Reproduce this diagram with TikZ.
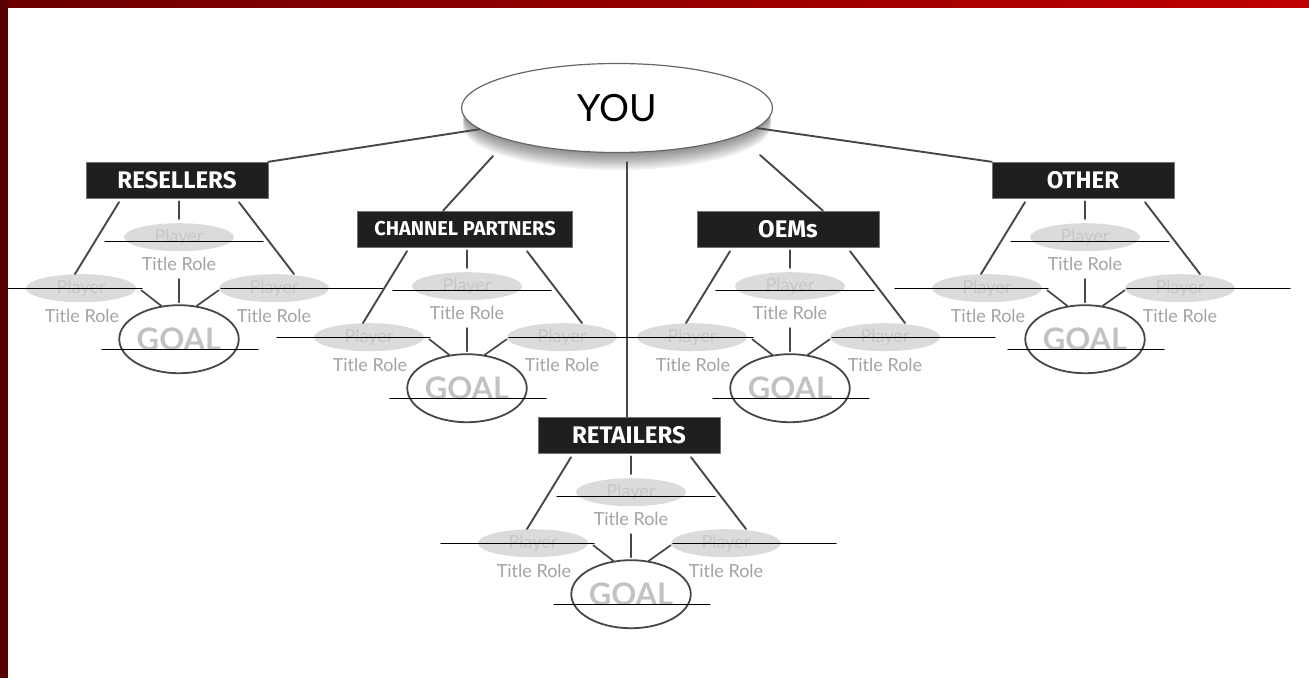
\documentclass[tikz,border=0pt]{standalone}
\usepackage{fontspec}
\setmainfont{Lato}
\newfontfamily\catfont{Fira Sans}
\usetikzlibrary{calc}
\usetikzlibrary{positioning}
\usetikzlibrary{shapes.geometric}

\tikzset{
  catbox/.style={fill=black!88, draw=black!55, text=white, inner sep=0pt,
    minimum width=182pt, minimum height=36pt,
    font=\catfont\bfseries\fontsize{24}{24}\selectfont},
  player/.style={ellipse, fill=black!14, text=black!22, inner sep=0pt,
    minimum width=110pt, minimum height=28pt, font=\fontsize{18}{18}\selectfont},
  role/.style={text=black!36, inner sep=0pt, font=\fontsize{18}{18}\selectfont},
  goal/.style={ellipse, draw=black!72, line width=1.8pt, text=black!24, inner sep=0pt,
    minimum width=105pt, minimum height=68pt, font=\bfseries\fontsize{31}{31}\selectfont},
  link/.style={draw=black!72, line width=1.9pt},
  tick/.style={draw=black!72, line width=1.7pt},
  blank/.style={draw=black, line width=1.3pt},
}

\begin{document}
\begin{tikzpicture}[x=1pt, y=-1pt, line cap=round, line join=round]
  \useasboundingbox (0,0) rectangle (1309,678);
  %--- YOU
    \foreach \i in {2,4,...,20}
      \fill[black, opacity=0.06] (617,106+\i) ellipse (154 and 44);
    \node[ellipse, draw=black!60, line width=1.2pt, fill=white, inner sep=0pt,
      minimum width=311pt, minimum height=89pt,
      font=\fontsize{37.5}{38}\selectfont] (you) at (617,108) {YOU};
  %--- groups
    \node[catbox] (res) at (177,180) {RESELLERS};
    \node[catbox, minimum width=215pt, font=\catfont\bfseries\fontsize{20}{20}\selectfont]
      (cp) at (465,229) {CHANNEL PARTNERS};
    \node[catbox] (oem) at (788,229) {OEMs};
    \node[catbox] (oth) at (1083,180) {OTHER};
    \node[catbox] (ret) at (629,435) {RETAILERS};
  %--- YOU to groups
    \draw[link] (you) -- (res.north east);
    \draw[link] ([xshift=-124pt,yshift=-48pt]you.center) -- ([xshift=-22pt]cp.north);
    \draw[link] ([xshift=10pt,yshift=-54pt]you.center) -- ([xshift=-2pt]ret.north);
    \draw[link] ([xshift=143pt,yshift=-47pt]you.center) -- ([xshift=35pt]oem.north);
    \draw[link] (you) -- (oth.north west);
  %--- players and goal under each group
    \foreach \b in {res,cp,oem,oth,ret} {
      \path (\b.south) ++(2,0) coordinate (\b-c);
      \node[player] (\b-top) at ($(\b-c)+(0,39)$) {Player};
      \node[role] (\b-tr) at ($(\b-c)+(0,66)$) {Title Role};
      \node[player] (\b-left) at ($(\b-c)+(-98,90)$) {Player};
      \node[role] (\b-lr) at ($(\b-c)+(-97,118)$) {Title Role};
      \node[player] (\b-right) at ($(\b-c)+(95,90)$) {Player};
      \node[role] (\b-rr) at ($(\b-c)+(95,118)$) {Title Role};
      \node[goal] (\b-goal) at ($(\b-c)+(0,141)$) {GOAL};
      \draw[link] ([xshift=-60pt,yshift=-4pt]\b-c) -- ([xshift=-6pt]\b-left.north);
      \draw[link] ([xshift=60pt,yshift=-4pt]\b-c) -- ([xshift=20pt]\b-right.north);
      \draw[tick] ([yshift=-3pt]\b-c) -- ([yshift=4pt]\b-top.north);
      \draw[tick] ([xshift=5pt,yshift=-2pt]\b-left.east) -- (\b-goal.118);
      \draw[tick] ([yshift=-8pt]\b-tr.south) -- ([yshift=2pt]\b-goal.north);
      \draw[tick] ([yshift=-2pt]\b-right.west) -- (\b-goal.62);
      \draw[blank] ($(\b-c)+(-74,43)$) -- ($(\b-c)+(84,43)$);
      \draw[blank] ($(\b-c)+(-190,90)$) -- ($(\b-c)+(-37,90)$);
      \draw[blank] ($(\b-c)+(42,90)$) -- ($(\b-c)+(205,90)$);
      \draw[blank] ($(\b-c)+(-77,151)$) -- ($(\b-c)+(79,151)$);
    }
  %--- frame
    \fill[left color=red!42!black, right color=red!75!black] (0,0) rectangle (1309,7);
    \fill[red!35!black] (0,0) rectangle (8,678);
\end{tikzpicture}
\end{document}
